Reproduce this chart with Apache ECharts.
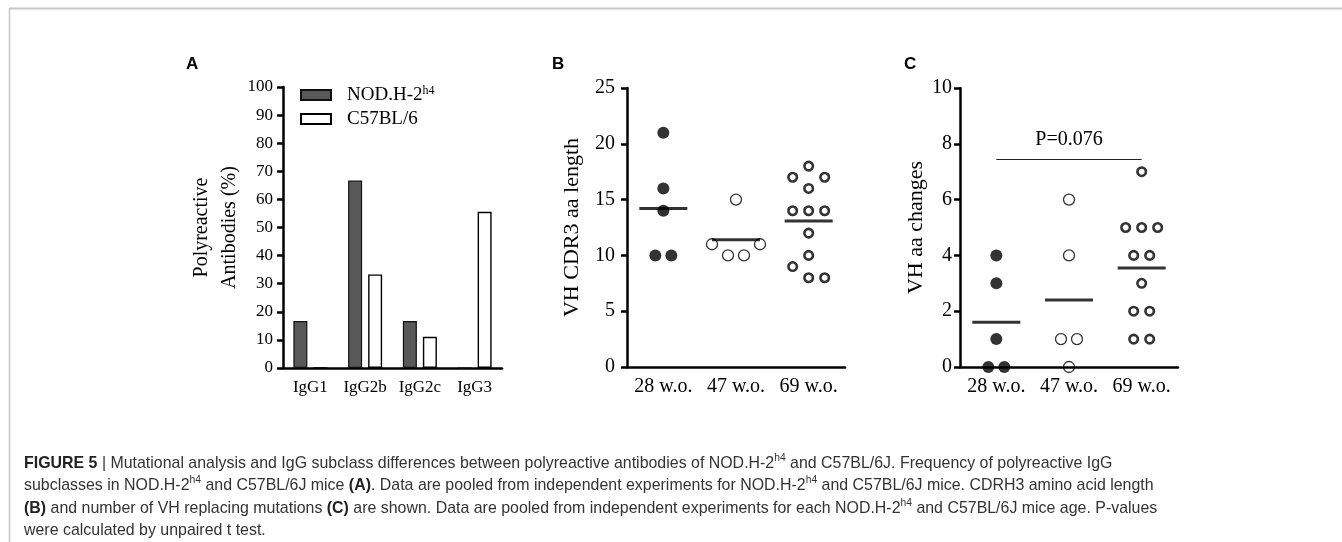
<!DOCTYPE html>
<html>
<head>
<meta charset="utf-8">
<script src="https://cdn.jsdelivr.net/npm/echarts@6/dist/echarts.min.js"></script>
<style>
html, body { margin: 0; padding: 0; background: #fff; }
#myChart { width: 1342px; height: 542px; }
</style>
</head>
<body>
<div id="myChart"></div>
<script>
// panel A: polyreactive IgG subclasses (%)
var subclasses = ['IgG1', 'IgG2b', 'IgG2c', 'IgG3'];
var nodValues = [16.7, 66.7, 16.7, 0];
var c57Values = [0, 33.3, 11.1, 55.6];

// panels B and C: one list per age group
var ages = ['28 w.o.', '47 w.o.', '69 w.o.'];
var cdr3Length = [
  [21, 16, 14, 10, 10],
  [15, 10, 10, 11, 11],
  [18, 17, 17, 16, 14, 14, 14, 12, 10, 9, 8, 8]
];
var aaChanges = [
  [4, 3, 1, 0, 0],
  [6, 4, 1, 1, 0],
  [7, 5, 5, 5, 4, 4, 3, 2, 2, 1, 1]
];
var pTest = { from: 0, to: 2, y: 7.45, text: 'P=0.076' };

var SERIF = 'Liberation Serif';
var gridA = { left: 283, top: 87, width: 219, height: 281 };
var gridB = { left: 627, top: 88, width: 218, height: 279 };
var gridC = { left: 960, top: 88, width: 218, height: 279 };

// column scatter layout: equal neighbours spread side by side, avoid overlaps (pixel space)
function swarm (vals, pxY, S) {
  var placed = [];
  var out = [];
  var i = 0;
  while (i < vals.length) {
    var j = i;
    while (j < vals.length && vals[j] === vals[i]) j++;
    var n = j - i;
    var y = vals[i] * pxY;
    var tries = [];
    if (n === 1) {
      [0, -1, 1, -2, 2, -3, 3, -4, 4].forEach(function (k) { tries.push([k * S / 2]); });
    } else {
      for (var m = 1; m <= 5; m++) {
        [0, -1, 1].forEach(function (k) {
          var c = [];
          for (var t = 0; t < n; t++) c.push(k * S / 2 + (t - (n - 1) / 2) * S * m);
          tries.push(c);
        });
      }
    }
    var xs = tries.find(function (c) {
      return c.every(function (cx) {
        return placed.every(function (p) { return Math.hypot(p.x - cx, p.y - y) >= S * 0.94; });
      });
    }) || tries[tries.length - 1];
    xs.forEach(function (cx) {
      placed.push({ x: cx, y: y });
      out.push([cx, vals[i]]);
    });
    i = j;
  }
  return out;
}

var dotStyles = [
  { symbolSize: 12, itemStyle: { color: '#000' } },
  { symbolSize: 11, itemStyle: { color: 'rgba(255,255,255,0)', borderColor: '#000', borderWidth: 1.3 } },
  { symbolSize: 8.5, itemStyle: { color: 'rgba(255,255,255,0)', borderColor: '#000', borderWidth: 2.6 } }
];

function panelSeries (groups, xIdx, yIdx, grid, max) {
  var pxY = grid.height / max;
  var band = grid.width / groups.length;
  var list = [];
  groups.forEach(function (vals, col) {
    var pts = swarm(vals, pxY, 16).map(function (p) { return [col + p[0] / band, p[1]]; });
    list.push(Object.assign({
      type: 'scatter',
      xAxisIndex: xIdx,
      yAxisIndex: yIdx,
      clip: false,
      symbol: 'circle',
      data: pts
    }, dotStyles[col]));
  });
  var means = groups.map(function (vals, col) {
    var s = 0;
    vals.forEach(function (v) { s += v; });
    return [col, s / vals.length];
  });
  list.push({
    type: 'scatter',
    xAxisIndex: xIdx,
    yAxisIndex: yIdx,
    clip: false,
    symbol: 'rect',
    symbolSize: [48, 3],
    itemStyle: { color: '#000' },
    data: means
  });
  return list;
}

function catAxis (grid, data, size, margin) {
  return {
    type: 'category',
    gridIndex: grid,
    data: data,
    axisLine: { onZero: false, lineStyle: { color: '#000', width: 2.5 } },
    axisTick: { alignWithLabel: true, length: 6, lineStyle: { color: '#000', width: 2.5 } },
    axisLabel: { interval: 0, color: '#000', fontFamily: SERIF, fontSize: size, margin: margin }
  };
}
function valAxis (grid, max, interval, name, gap, nameSize, lineH, margin, size) {
  return {
    type: 'value',
    gridIndex: grid,
    min: 0,
    max: max,
    interval: interval,
    name: name,
    nameLocation: 'middle',
    nameGap: gap,
    nameTextStyle: { color: '#000', fontFamily: SERIF, fontSize: nameSize, lineHeight: lineH },
    splitLine: { show: false },
    axisLine: { show: true, onZero: false, lineStyle: { color: '#000', width: 2.5 } },
    axisTick: { show: true, length: 6, lineStyle: { color: '#000', width: 2.5 } },
    axisLabel: { color: '#000', fontFamily: SERIF, fontSize: size, margin: margin }
  };
}
function hiddenX (grid) {
  return { type: 'value', gridIndex: grid, min: -0.5, max: 2.5, show: false };
}

var seriesB = panelSeries(cdr3Length, 2, 1, gridB, 25);
var seriesC = panelSeries(aaChanges, 4, 2, gridC, 10);
seriesC[seriesC.length - 1].markLine = {
  silent: true,
  symbol: 'none',
  lineStyle: { color: '#222', width: 1.2, type: 'solid' },
  label: {
    show: true,
    position: 'insideMiddleTop',
    distance: 9,
    formatter: pTest.text,
    color: '#000',
    fontFamily: SERIF,
    fontSize: 20
  },
  data: [[{ coord: [pTest.from, pTest.y] }, { coord: [pTest.to, pTest.y] }]]
};

var captionText = [
  '{b|FIGURE 5} | Mutational analysis and IgG subclass differences between polyreactive antibodies of NOD.H-2{sup|h4} and C57BL/6J. Frequency of polyreactive IgG',
  'subclasses in NOD.H-2{sup|h4} and C57BL/6J mice {b|(A)}. Data are pooled from independent experiments for NOD.H-2{sup|h4} and C57BL/6J mice. CDRH3 amino acid length',
  '{b|(B)} and number of VH replacing mutations {b|(C)} are shown. Data are pooled from independent experiments for each NOD.H-2{sup|h4} and C57BL/6J mice age. P-values',
  'were calculated by unpaired t test.'
].join('\n');

var myChart = echarts.init(document.getElementById('myChart'));
myChart.setOption({
  animation: false,
  backgroundColor: '#fff',
  title: [
    { text: 'A', left: 186, top: 56 },
    { text: 'B', left: 552, top: 56 },
    { text: 'C', left: 904, top: 56 }
  ].map(function (t) {
    t.textStyle = { fontFamily: 'Liberation Sans', fontWeight: 'bold', fontSize: 17, color: '#000' };
    t.padding = 0;
    return t;
  }),
  legend: {
    orient: 'vertical',
    left: 295,
    top: 80,
    itemWidth: 30,
    itemHeight: 10,
    itemGap: 5,
    icon: 'rect',
    data: ['NOD.H-2h4', 'C57BL/6'],
    formatter: function (name) {
      return name === 'NOD.H-2h4' ? '{n|NOD.H-2}{s|h4}' : '{n|C57BL/6}';
    },
    textStyle: {
      padding: [0, 0, 0, 11],
      rich: {
        n: { fontFamily: SERIF, fontSize: 19, color: '#000', lineHeight: 20 },
        s: { fontFamily: SERIF, fontSize: 12, color: '#000', lineHeight: 12, verticalAlign: 'top' }
      }
    }
  },
  grid: [gridA, gridB, gridC],
  xAxis: [
    catAxis(0, subclasses, 17, 11),
    catAxis(1, ages, 20, 10),
    hiddenX(1),
    catAxis(2, ages, 20, 10),
    hiddenX(2)
  ],
  yAxis: [
    valAxis(0, 100, 10, 'Polyreactive\nAntibodies (%)', 36, 20, 28, 10, 17),
    valAxis(1, 25, 5, 'VH CDR3 aa length', 43, 22, 24, 12, 20),
    valAxis(2, 10, 2, 'VH aa changes', 32, 22, 24, 8, 20)
  ],
  series: [
    {
      name: 'NOD.H-2h4',
      type: 'bar',
      xAxisIndex: 0,
      yAxisIndex: 0,
      barWidth: 14,
      barGap: '43%',
      itemStyle: { color: '#595959', borderColor: '#111', borderWidth: 1.2 },
      data: nodValues
    },
    {
      name: 'C57BL/6',
      type: 'bar',
      xAxisIndex: 0,
      yAxisIndex: 0,
      barWidth: 14,
      itemStyle: { color: '#fff', borderColor: '#000', borderWidth: 1.4 },
      data: c57Values
    }
  ].concat(seriesB, seriesC),
  graphic: [
    { type: 'line', shape: { x1: 9, y1: 8.5, x2: 1342, y2: 8.5 }, style: { stroke: '#c8c8c8', lineWidth: 2 } },
    { type: 'line', shape: { x1: 9.5, y1: 8, x2: 9.5, y2: 542 }, style: { stroke: '#c8c8c8', lineWidth: 1.5 } },
    {
      type: 'text',
      x: 24,
      y: 452,
      scaleX: 0.937,
      style: {
        text: captionText,
        fill: '#333',
        fontFamily: 'Liberation Sans',
        fontSize: 17,
        lineHeight: 22.5,
        rich: {
          b: { fontFamily: 'Liberation Sans', fontWeight: 'bold', fontSize: 17, fill: '#222', lineHeight: 22.5 },
          sup: { fontFamily: 'Liberation Sans', fontSize: 11, fill: '#333', lineHeight: 11, verticalAlign: 'top' }
        }
      }
    }
  ]
});
</script>
</body>
</html>
